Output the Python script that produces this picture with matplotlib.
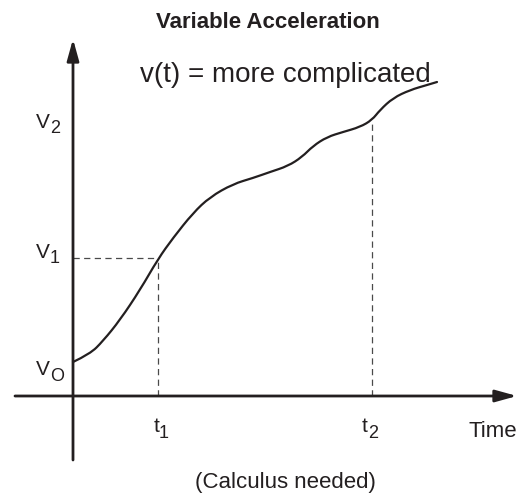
import matplotlib
matplotlib.use('Agg')
import matplotlib.pyplot as plt
from matplotlib.path import Path
from matplotlib.patches import PathPatch

plt.rcParams['font.family'] = ['Liberation Sans', 'DejaVu Sans']

# curve (time, velocity), origin where the axes cross
time = [0, 17, 30, 47, 67, 85, 100, 120, 137, 160, 180, 197, 215, 229,
        240, 254, 270, 287, 299, 307, 320, 337, 354, 364]
velocity = [34, 42, 55, 76, 106, 137, 158, 183, 199, 212, 218, 224, 230, 239,
            250, 259, 264, 269, 276, 286, 298, 306, 311, 314]

t1, v1 = 85, 138
t2, v2 = 299, 276

ink = '#231f20'

fig = plt.figure(figsize=(5.29, 4.96), dpi=100)
ax = fig.add_axes([0, 0, 1, 1])
ax.set_xlim(-73, 456)
ax.set_ylim(-100, 396)
ax.axis('off')

# axes with arrow heads
arrow = dict(arrowstyle='-|>,head_length=1.3,head_width=0.36', lw=2,
             color=ink, shrinkA=0, shrinkB=0, mutation_scale=10)
ax.annotate('', xy=(0, 357), xytext=(0, -64), arrowprops=arrow)
ax.annotate('', xy=(444, 0), xytext=(-58, 0), arrowprops=arrow)

# dashed guides
dash = dict(color='#4a4a4a', lw=0.9, dashes=(5, 3.5))
ax.plot([0, t1], [v1, v1], **dash)
ax.plot([t1, t1], [0, v1], **dash)
ax.plot([t2, t2], [0, v2], **dash)

# smooth curve: quadratic segments through the midpoints of the read points
pts = list(zip(time, velocity))
verts = [pts[0]]
codes = [Path.MOVETO]
for i in range(1, len(pts) - 1):
    mid = ((pts[i][0] + pts[i + 1][0]) / 2, (pts[i][1] + pts[i + 1][1]) / 2)
    verts += [pts[i], mid]
    codes += [Path.CURVE3, Path.CURVE3]
verts.append(pts[-1])
codes.append(Path.LINETO)
ax.add_patch(PathPatch(Path(verts, codes), fill=False, edgecolor=ink,
                       lw=1.6, capstyle='round'))

ax.text(195, 368, 'Variable Acceleration', ha='center', va='baseline',
        fontsize=16, fontweight='bold', color=ink)
ax.text(212, 314, 'v(t) = more complicated', ha='center', va='baseline',
        fontsize=20, color=ink)
ax.text(212, -92, '(Calculus needed)', ha='center', va='baseline',
        fontsize=16, color=ink)
ax.text(420, -41, 'Time', ha='center', va='baseline', fontsize=16, color=ink)


def label(x, y, main, sub, drop=5):
    ax.text(x, y, main, ha='right', va='baseline', fontsize=15, color=ink)
    ax.text(x, y - drop, sub, ha='left', va='baseline', fontsize=13, color=ink)


label(-23, 268, 'V', '2')
label(-23, v1, 'V', '1')
label(-23, 21, 'V', 'O', drop=6)
label(t1 + 1, -36, 't', '1', drop=6)
label(t2 - 4, -36, 't', '2', drop=6)

fig.savefig('out.png', dpi=100)
